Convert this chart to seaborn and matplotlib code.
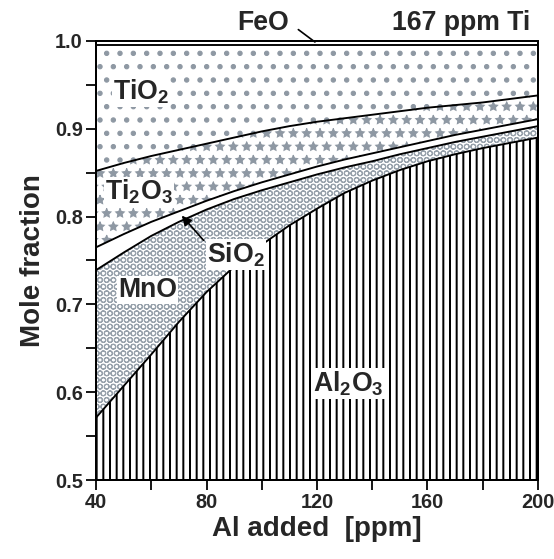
import numpy as np
import matplotlib
matplotlib.use("Agg")
import matplotlib.pyplot as plt
import matplotlib.hatch as mhatch
from matplotlib.ticker import MultipleLocator
import seaborn as sns

# Al added [ppm]
al_added = [40, 50, 60, 70, 80, 90, 100, 110, 120, 130, 140, 150, 160, 170, 180, 190, 200]

# mole fractions of each oxide
al2o3 = [0.571, 0.607, 0.643, 0.680, 0.714, 0.743, 0.768, 0.790, 0.809,
         0.827, 0.841, 0.853, 0.863, 0.871, 0.878, 0.884, 0.890]
mno = [0.168, 0.152, 0.135, 0.114, 0.094, 0.077, 0.062, 0.049, 0.039,
       0.029, 0.022, 0.018, 0.015, 0.014, 0.013, 0.013, 0.013]
sio2 = [0.026, 0.021, 0.016, 0.012, 0.010, 0.009, 0.009, 0.009, 0.009,
        0.009, 0.009, 0.008, 0.008, 0.008, 0.008, 0.008, 0.008]
ti2o3 = [0.087, 0.081, 0.075, 0.070, 0.065, 0.061, 0.058, 0.055, 0.051,
         0.047, 0.044, 0.041, 0.038, 0.034, 0.031, 0.029, 0.027]
tio2 = [0.143, 0.134, 0.126, 0.119, 0.112, 0.105, 0.098, 0.092, 0.087,
        0.083, 0.079, 0.075, 0.071, 0.068, 0.065, 0.061, 0.057]
feo = [0.005] * 17

sns.set_style("ticks")
plt.rcParams["font.family"] = ["Liberation Sans", "DejaVu Sans"]
plt.rcParams["font.weight"] = "bold"
plt.rcParams["mathtext.fontset"] = "custom"
plt.rcParams["mathtext.rm"] = "Liberation Sans:bold"
plt.rcParams["mathtext.bf"] = "Liberation Sans:bold"
plt.rcParams["mathtext.it"] = "Liberation Sans:bold"
plt.rcParams["hatch.linewidth"] = 1.0

# tweak the hatch shapes a bit (bigger dots / rings)
mhatch.SmallFilledCircles.size = 0.16
mhatch.LargeCircles.size = 0.37

gray = "#8e98a3"
light_gray = "#97a1ab"

layers = [al2o3, mno, sio2, ti2o3, tio2, feo]
tops = np.cumsum(np.array(layers), axis=0)
bottoms = np.vstack([np.zeros(len(al_added)), tops[:-1]])

# hatch, hatch colour, hatch line width
styles = [
    ("||", "black", 1.8),      # Al2O3
    ("OO", light_gray, 1.0),   # MnO
    ("", gray, 1.0),           # SiO2
    ("*", gray, 1.0),          # Ti2O3
    (".", gray, 1.0),          # TiO2
    ("", gray, 1.0),           # FeO
]

fig = plt.figure(figsize=(554 / 80, 559 / 80), dpi=80)
ax = fig.add_axes([0.1733, 0.1413, 0.7978, 0.7854])

for (hatch, col, hlw), lo, hi in zip(styles, bottoms, tops):
    with plt.rc_context({"hatch.linewidth": hlw}):
        coll = ax.fill_between(al_added, lo, hi, facecolor="white",
                               edgecolor=col, hatch=hatch, linewidth=0)
    if hasattr(coll, "set_hatch_linewidth"):
        coll.set_hatch_linewidth(hlw)

for hi in tops[:-1]:
    sns.lineplot(x=al_added, y=hi, color="black", linewidth=1.7, ax=ax)

ax.set_xlim(40, 200)
ax.set_ylim(0.5, 1.0)
ax.xaxis.set_major_locator(MultipleLocator(40))
ax.xaxis.set_minor_locator(MultipleLocator(20))
ax.yaxis.set_major_locator(MultipleLocator(0.1))
ax.yaxis.set_minor_locator(MultipleLocator(0.05))
ax.yaxis.set_major_formatter(plt.FormatStrFormatter("%.1f"))
ax.tick_params(which="both", direction="out", length=9, width=1.6,
               labelsize=18, color="black", pad=3)
for s in ax.spines.values():
    s.set_linewidth(1.8)
    s.set_color("black")
    s.set_zorder(5)

ax.set_xlabel("Al added  [ppm]", fontsize=25, fontweight="bold", labelpad=3)
ax.set_ylabel("Mole fraction", fontsize=25, fontweight="bold", labelpad=8)

box = dict(facecolor="white", edgecolor="none", pad=1.0)
lab = dict(fontsize=24, fontweight="bold", va="center", ha="left", bbox=box,
           zorder=4)
ax.text(46.2, 0.942, r"TiO$_2$", **lab)
ax.text(43.3, 0.828, r"Ti$_2$O$_3$", **lab)
ax.text(80.2, 0.757, r"SiO$_2$", **lab)
ax.text(48.0, 0.716, "MnO", **lab)
ax.text(118.6, 0.610, r"Al$_2$O$_3$", **lab)
ax.text(91.0, 1.0205, "FeO", fontsize=24, fontweight="bold", va="center",
        ha="left", clip_on=False)
ax.text(197.1, 1.0205, "167 ppm Ti", fontsize=24, fontweight="bold",
        va="center", ha="right", clip_on=False)

ax.annotate("", xy=(70.5, 0.803), xytext=(79.5, 0.771),
            arrowprops=dict(arrowstyle="-|>", color="black", lw=1.5,
                            mutation_scale=18), zorder=5)
ax.annotate("", xy=(119.9, 0.9973), xytext=(112.6, 1.0145),
            arrowprops=dict(arrowstyle="-", color="black", lw=1.5),
            annotation_clip=False)

fig.savefig("out.png", dpi=80)
